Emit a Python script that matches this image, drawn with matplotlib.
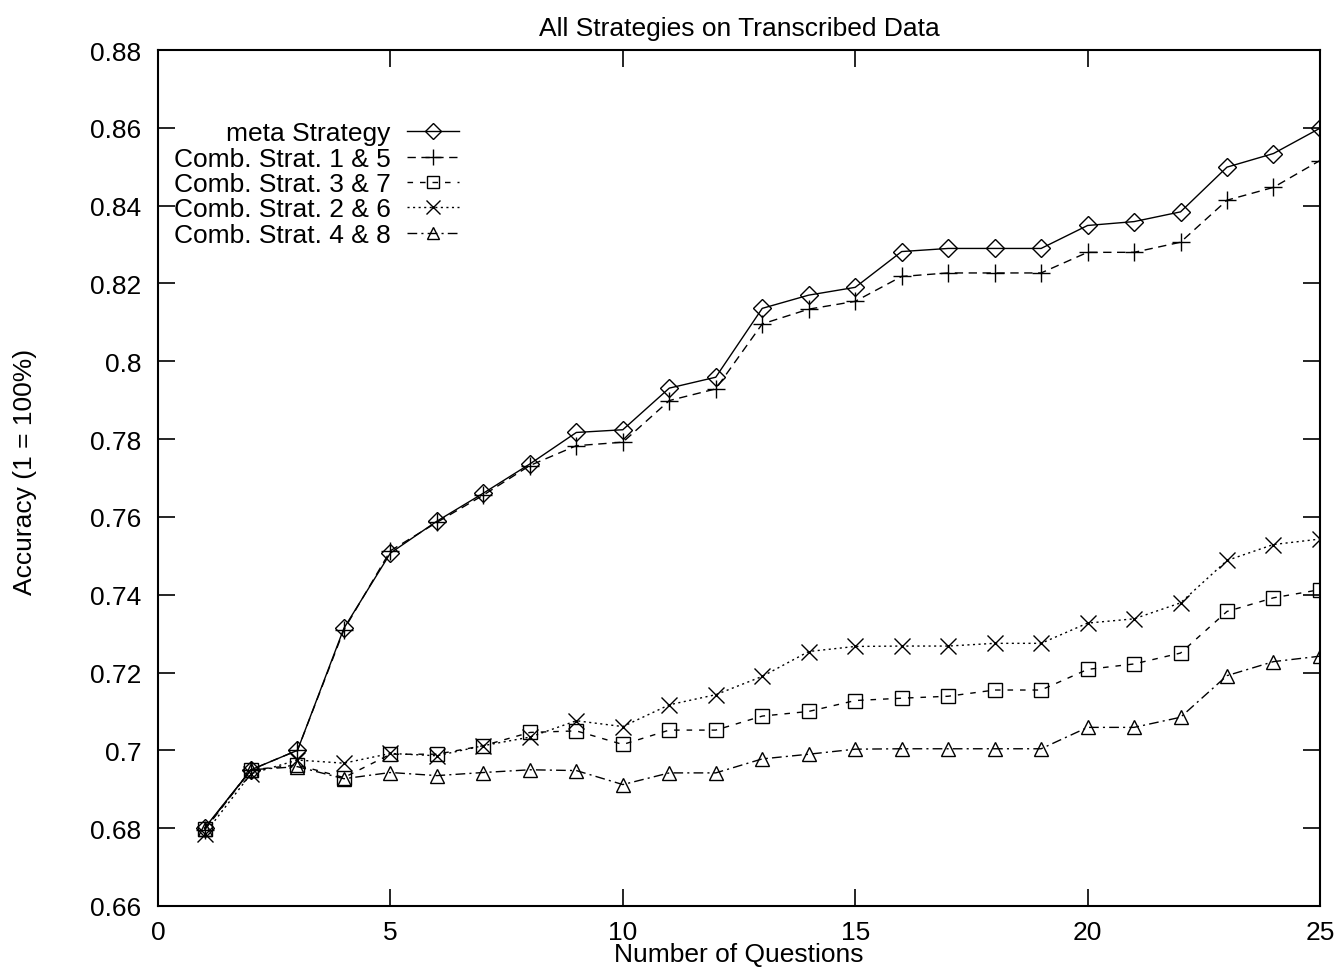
import matplotlib
matplotlib.use("Agg")
import matplotlib.pyplot as plt

plt.rcParams['font.family'] = ['Liberation Sans', 'DejaVu Sans']

questions = list(range(1, 26))

meta = [0.680, 0.695, 0.700, 0.7314, 0.7507, 0.7589, 0.7661, 0.7736, 0.7817, 0.7824,
        0.7931, 0.7959, 0.8136, 0.8170, 0.8190, 0.8282, 0.8290, 0.8290, 0.8290, 0.8349,
        0.8359, 0.8384, 0.8499, 0.8534, 0.8599]
comb_1_5 = [0.6795, 0.695, 0.700, 0.7310, 0.7513, 0.7586, 0.7656, 0.7732, 0.7783, 0.7792,
            0.7899, 0.7929, 0.8096, 0.8134, 0.8154, 0.8218, 0.8227, 0.8227, 0.8227, 0.8280,
            0.8280, 0.8306, 0.8414, 0.8447, 0.8516]
comb_3_7 = [0.6798, 0.695, 0.6962, 0.6930, 0.6990, 0.6990, 0.7012, 0.7046, 0.7050, 0.7015,
            0.7052, 0.7052, 0.7088, 0.7100, 0.7128, 0.7134, 0.7139, 0.7155, 0.7155, 0.7208,
            0.7222, 0.7250, 0.7357, 0.7392, 0.7413]
comb_2_6 = [0.6785, 0.6940, 0.6975, 0.6967, 0.6992, 0.6986, 0.7012, 0.7034, 0.7076, 0.7061,
            0.7117, 0.7143, 0.7190, 0.7254, 0.7267, 0.7268, 0.7268, 0.7275, 0.7275, 0.7327,
            0.7338, 0.7379, 0.7488, 0.7529, 0.7543]
comb_4_8 = [0.6798, 0.695, 0.6958, 0.6927, 0.6943, 0.6935, 0.6943, 0.6950, 0.6948, 0.6912,
            0.6942, 0.6942, 0.6978, 0.6990, 0.7003, 0.7004, 0.7004, 0.7004, 0.7004, 0.7059,
            0.7059, 0.7085, 0.7192, 0.7228, 0.7242]

fig = plt.figure(figsize=(13.36, 9.70), dpi=100)
ax = fig.add_axes([0.1183, 0.065, 0.988 - 0.1183, 0.9474 - 0.065])

kw = dict(color='black', linewidth=1.0, markersize=10, markerfacecolor='none',
          markeredgewidth=1.0)
ax.plot(questions, meta, linestyle='-', marker='D', label='meta Strategy',
        **{**kw, 'markersize': 9})
ax.plot(questions, comb_1_5, linestyle=(0, (6, 4)), marker='+', label='Comb. Strat. 1 & 5',
        **{**kw, 'markersize': 13})
ax.plot(questions, comb_3_7, linestyle=(0, (4, 5)), marker='s', label='Comb. Strat. 3 & 7',
        **kw)
ax.plot(questions, comb_2_6, linestyle=(0, (1.5, 2.5)), marker='x', label='Comb. Strat. 2 & 6',
        **{**kw, 'markersize': 12})
ax.plot(questions, comb_4_8, linestyle=(0, (7, 3, 1.5, 3)), marker='^', label='Comb. Strat. 4 & 8',
        **kw)

ax.set_xlim(0, 25)
ax.set_ylim(0.66, 0.88)
ax.set_xticks([0, 5, 10, 15, 20, 25])
ax.set_yticks([0.66, 0.68, 0.70, 0.72, 0.74, 0.76, 0.78, 0.80, 0.82, 0.84, 0.86, 0.88])
ax.set_yticklabels(['0.66', '0.68', '0.7', '0.72', '0.74', '0.76', '0.78', '0.8',
                    '0.82', '0.84', '0.86', '0.88'])
ax.tick_params(direction='in', length=12, width=1.2, top=True, right=True,
               labelsize=19)
ax.tick_params(axis='x', pad=10)
ax.tick_params(axis='y', pad=12)
for s in ax.spines.values():
    s.set_linewidth(1.5)

ax.set_title('All Strategies on Transcribed Data', fontsize=19, pad=11)
ax.set_xlabel('Number of Questions', fontsize=19, va='baseline')
ax.xaxis.set_label_coords(0.5, -0.0643)
ax.set_ylabel('Accuracy (1 = 100%)', fontsize=19, va='center')
ax.yaxis.set_label_coords(-0.1145, 0.508)

ax.legend(loc='upper left', bbox_to_anchor=(0.0, 0.935), markerfirst=False,
          frameon=False, fontsize=19, handlelength=2.0, labelspacing=0.05,
          handletextpad=0.6, borderaxespad=0.2, markerscale=0.85)

fig.savefig('out.png', dpi=100)
